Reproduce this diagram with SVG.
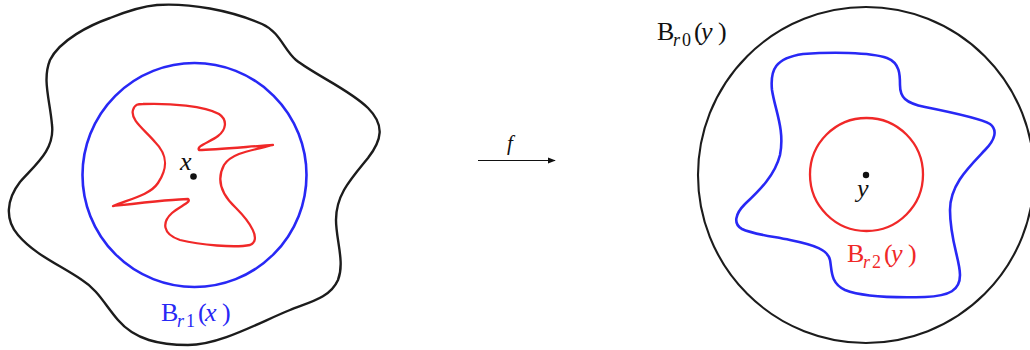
<svg xmlns="http://www.w3.org/2000/svg" width="1030" height="350" viewBox="0 0 1030 350">
  <defs>
    <marker id="arrowhead" viewBox="0 0 10 8" refX="9" refY="4" markerWidth="8" markerHeight="6.4" markerUnits="userSpaceOnUse" orient="auto">
      <path d="M0,0 L10,4 L0,8 Z" fill="#111"/>
    </marker>
    <style>
      .shape { fill: none; stroke-linejoin: round; }
      .blk { stroke: #1c1c1c; stroke-width: 2.4; }
      .blu { stroke: #2828f5; stroke-width: 2.6; }
      .red { stroke: #f02828; stroke-width: 2.3; }
      .dot { fill: #111; }
    </style>
  </defs>
  <rect width="1030" height="350" fill="#ffffff"/>

  <g id="left-region">
    <path class="shape blk" d="M 157,5 C 190,3 230,10 262,24 C 280,32 284,50 296,60 C 315,75 350,90 368,108 C 385,125 382,140 368,158 C 350,180 336,195 336,220 C 336,240 345,262 338,280 C 330,298 310,302 290,310 C 260,322 220,345 188,345 C 160,345 135,340 118,320 C 105,305 98,290 82,280 C 60,265 35,255 18,235 C 5,220 6,200 20,182 C 35,165 55,150 52,125 C 50,100 42,80 50,60 C 60,40 90,25 110,18 C 130,10 145,6 157,5 Z"/>
  </g>

  <g id="ball-r1">
    <circle class="shape blu" cx="194.5" cy="175" r="112"/>
    <text font-family="'Liberation Serif', 'DejaVu Serif', serif" font-size="26" fill="#2828f5" y="321"><tspan x="161">B</tspan><tspan font-style="italic" font-size="18" x="177" y="327">r</tspan><tspan font-size="18" x="186" y="327">1</tspan><tspan x="198" y="321">(</tspan><tspan font-style="italic" x="205" y="321">x</tspan><tspan x="222" y="321">)</tspan></text>
  </g>

  <g id="red-set">
    <path class="shape red" d="M 143,104 C 170,103 205,106 219,114 C 228,120 226,130 218,136 C 210,142 196,146 199,150 C 215,150 255,146 273,145 C 255,150 232,152 224,165 C 216,180 222,195 236,208 C 250,222 262,240 250,245 C 235,248 200,245 180,240 C 162,234 162,222 172,213 C 180,206 192,202 188,199 C 175,199 140,203 113,206 C 130,199 150,195 158,183 C 168,168 168,155 155,142 C 145,130 130,120 133,110 C 135,104 138,104 143,104 Z"/>
  </g>

  <g id="point-x">
    <circle class="dot" cx="193.5" cy="176.5" r="3.3"/>
    <text font-family="'Liberation Serif', 'DejaVu Serif', serif" font-size="26" font-style="italic" fill="#111" x="180" y="170">x</text>
  </g>

  <g id="ball-r0">
    <circle class="shape blk" cx="866" cy="175" r="168" style="stroke-width:2.1"/>
    <text font-family="'Liberation Serif', 'DejaVu Serif', serif" font-size="26" fill="#111" y="40"><tspan x="657">B</tspan><tspan font-style="italic" font-size="18" x="673" y="46">r</tspan><tspan font-size="18" x="682" y="46">0</tspan><tspan x="694" y="40">(</tspan><tspan font-style="italic" x="701" y="40">y</tspan><tspan x="718" y="40">)</tspan></text>
  </g>

  <g id="blue-set">
    <path class="shape blu" d="M 803,54 C 830,52 870,52 887,58 C 900,63 900,75 900,85 C 900,97 905,103 925,107 C 950,112 980,118 990,124 C 998,130 995,140 985,150 C 968,168 950,185 950,210 C 950,240 960,260 960,275 C 960,290 950,296 925,297 C 890,298 860,296 845,290 C 830,283 832,270 830,260 C 828,250 815,245 790,240 C 770,236 752,234 742,229 C 733,224 735,214 745,204 C 760,190 775,175 780,155 C 785,130 775,110 772,90 C 770,70 775,58 803,54 Z"/>
  </g>

  <g id="ball-r2">
    <circle class="shape red" cx="866.5" cy="174.5" r="56.5"/>
    <text font-family="'Liberation Serif', 'DejaVu Serif', serif" font-size="26" fill="#f02828" y="262"><tspan x="847">B</tspan><tspan font-style="italic" font-size="18" x="863" y="268">r</tspan><tspan font-size="18" x="872" y="268">2</tspan><tspan x="884" y="262">(</tspan><tspan font-style="italic" x="891" y="262">y</tspan><tspan x="908" y="262">)</tspan></text>
  </g>

  <g id="point-y">
    <circle class="dot" cx="866" cy="175" r="3.2"/>
    <text font-family="'Liberation Serif', 'DejaVu Serif', serif" font-size="26" font-style="italic" fill="#111" x="857" y="197">y</text>
  </g>

  <g id="connectors">
    <line x1="478" y1="160.5" x2="555" y2="160.5" stroke="#111" stroke-width="1.2" marker-end="url(#arrowhead)"/>
    <text font-family="'Liberation Serif', 'DejaVu Serif', serif" font-size="21" font-style="italic" fill="#111" x="507" y="150">f</text>
  </g>
</svg>
